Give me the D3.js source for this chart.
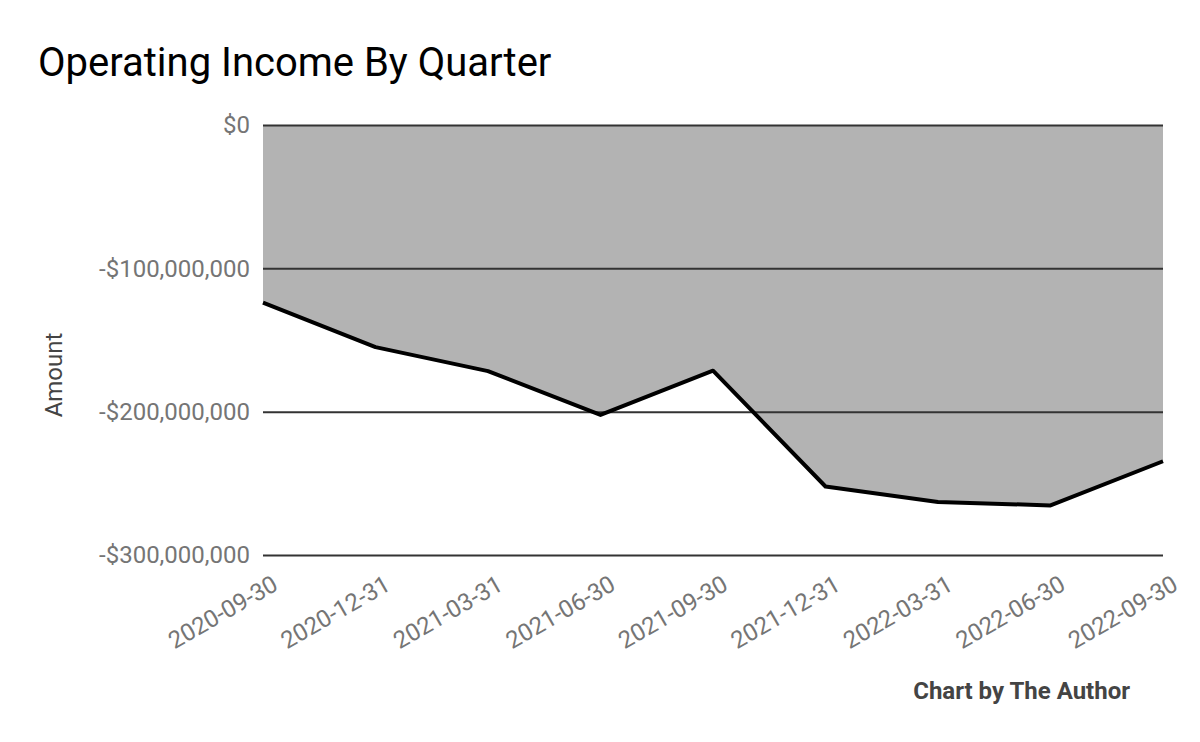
<!DOCTYPE html>
<html>
<head>
<meta charset="utf-8">
<script src="https://cdn.jsdelivr.net/npm/d3@7"></script>
<style>
  body { margin: 0; background: #fff; }
  text { font-family: Roboto, sans-serif; }
</style>
</head>
<body>
<div id="chart"></div>
<script>
var quarters = ["2020-09-30", "2020-12-31", "2021-03-31", "2021-06-30", "2021-09-30",
                "2021-12-31", "2022-03-31", "2022-06-30", "2022-09-30"];
var operatingIncome = [-124000000, -155000000, -171700000, -202300000, -171400000,
                       -252200000, -263000000, -265400000, -234600000];
var yTicks = [0, -100000000, -200000000, -300000000];

var width = 1200, height = 742;
var margin = { top: 125, right: 37, bottom: 187, left: 263 };

var svg = d3.select("#chart").append("svg")
    .attr("width", width)
    .attr("height", height);

var x = d3.scalePoint()
    .domain(quarters)
    .range([margin.left, width - margin.right]);

var y = d3.scaleLinear()
    .domain([-300000000, 0])
    .range([height - margin.bottom, margin.top]);

var fmt = function (v) {
  var s = "$" + d3.format(",")(Math.abs(v));
  return v < 0 ? "-" + s : s;
};

// title
svg.append("text")
    .attr("x", 38)
    .attr("y", 76)
    .attr("font-size", 40)
    .attr("fill", "#000")
    .text("Operating Income By Quarter");

var points = quarters.map(function (q, i) { return { q: q, v: operatingIncome[i] }; });

// area between zero and the line
var area = d3.area()
    .x(function (d) { return x(d.q); })
    .y0(y(0))
    .y1(function (d) { return y(d.v); });

svg.append("path")
    .datum(points)
    .attr("d", area)
    .attr("fill", "#b3b3b3");

// gridlines + y labels
var yAxis = svg.append("g")
    .attr("transform", "translate(" + margin.left + ",0)")
    .call(d3.axisLeft(y)
        .tickValues(yTicks)
        .tickSize(-(width - margin.left - margin.right))
        .tickPadding(13)
        .tickFormat(fmt));
yAxis.select(".domain").remove();
yAxis.selectAll(".tick line")
    .attr("stroke", "#333")
    .attr("stroke-width", 2);
yAxis.selectAll(".tick text")
    .attr("fill", "#757575")
    .attr("font-size", 24)
    .style("font-family", "Roboto, sans-serif");

// line
var line = d3.line()
    .x(function (d) { return x(d.q); })
    .y(function (d) { return y(d.v); });

svg.append("path")
    .datum(points)
    .attr("d", line)
    .attr("fill", "none")
    .attr("stroke", "#000")
    .attr("stroke-width", 4)
    .attr("stroke-linejoin", "round");

// x labels
var xAxis = svg.append("g")
    .attr("transform", "translate(0," + (height - margin.bottom) + ")")
    .call(d3.axisBottom(x).tickSize(0).tickPadding(0));
xAxis.select(".domain").remove();
xAxis.selectAll(".tick text")
    .attr("fill", "#757575")
    .attr("font-size", 24)
    .style("font-family", "Roboto, sans-serif")
    .attr("text-anchor", "end")
    .attr("dy", 0)
    .attr("transform", "translate(16,34) rotate(-30)");

// axis title
svg.append("text")
    .attr("transform", "translate(62,375) rotate(-90)")
    .attr("text-anchor", "middle")
    .attr("font-size", 24)
    .attr("fill", "#444")
    .text("Amount");

// credit
svg.append("text")
    .attr("x", 1130)
    .attr("y", 699)
    .attr("text-anchor", "end")
    .attr("font-size", 24)
    .attr("font-weight", "bold")
    .attr("fill", "#444")
    .text("Chart by The Author");
</script>
</body>
</html>
